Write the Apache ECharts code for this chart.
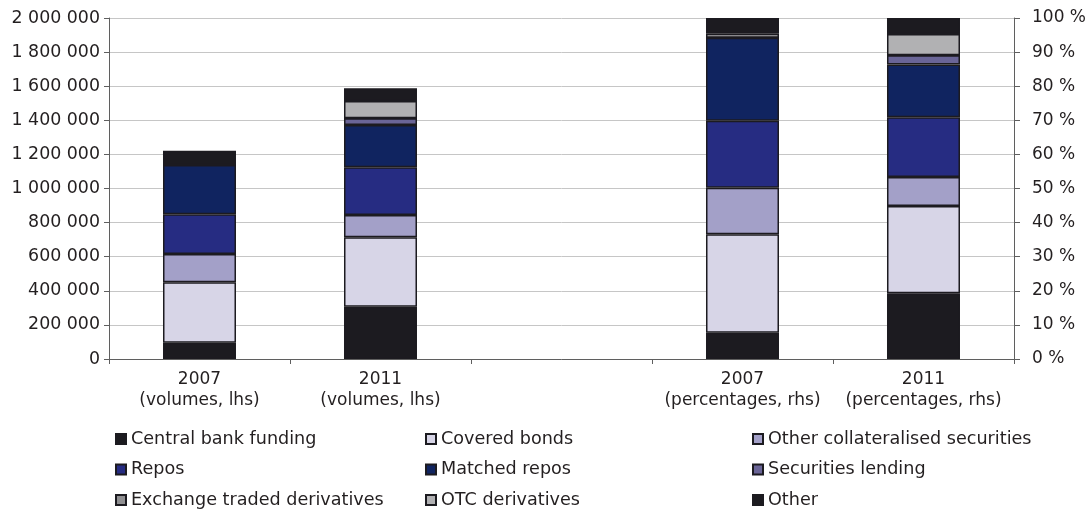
<!DOCTYPE html>
<html>
<head>
<meta charset="utf-8">
<title>Funding sources, volumes and percentages</title>
<script src="https://cdn.jsdelivr.net/npm/echarts@6/dist/echarts.min.js"></script>
<style>
  html, body { margin: 0; padding: 0; background: #fff; }
  #chart { width: 1089px; height: 511px; }
</style>
</head>
<body>
<div id="chart"></div>
<script>
// x categories (middle slot is an empty spacer)
const categories = ['2007\n(volumes, lhs)', '2011\n(volumes, lhs)', '', '2007\n(percentages, rhs)', '2011\n(percentages, rhs)']

// series names, bottom of the stack first
const seriesNames = [
  'Central bank funding',
  'Covered bonds',
  'Other collateralised securities',
  'Repos',
  'Matched repos',
  'Securities lending',
  'Exchange traded derivatives',
  'OTC derivatives',
  'Other'
]
const seriesColors = ['#1c1b20', '#d7d5e7', '#a3a0c8', '#262c82', '#102460', '#6a6597', '#8f8f91', '#b1b1b3', '#1c1b20']

// volumes (lhs), same order as seriesNames
const vol2007 = [95000, 355000, 166000, 233000, 289000, 0, 0, 0, 84000]
const vol2011 = [307000, 407000, 131000, 279000, 248000, 40000, 0, 101000, 75000]

// percentages (rhs), same order as seriesNames
const pct2007 = [7.7, 28.9, 13.6, 19.7, 24.3, 0, 0, 1.2, 4.6]
const pct2011 = [19.3, 25.6, 8.5, 17.5, 15.5, 2.7, 0, 6.2, 4.7]

// tick labels
const lhsTicks = { min: 0, max: 2000000, interval: 200000 }
const rhsTicks = { min: 0, max: 100, interval: 10 }

// legend columns (as in the picture, filled by column)
const legendCols = [
  ['Central bank funding', 'Repos', 'Exchange traded derivatives'],
  ['Covered bonds', 'Matched repos', 'OTC derivatives'],
  ['Other collateralised securities', 'Securities lending', 'Other']
]
const legendLeft = [115, 425, 752]

const FONT = 'DejaVu Sans'
const TXT = '#231f20'

function spaced(v) {
  return String(v).replace(/\B(?=(\d{3})+(?!\d))/g, ' ')
}

function buildSeries() {
  let arr = []
  seriesNames.forEach((name, i) => {
    const style = { color: seriesColors[i], borderColor: '#1c1b20', borderWidth: 1.5 }
    arr.push({
      name: name,
      type: 'bar',
      stack: 'vol',
      yAxisIndex: 0,
      barWidth: 73,
      barGap: '-100%',
      itemStyle: style,
      emphasis: { disabled: true },
      data: [vol2007[i], vol2011[i], '-', '-', '-']
    })
  })
  seriesNames.forEach((name, i) => {
    const style = { color: seriesColors[i], borderColor: '#1c1b20', borderWidth: 1.5 }
    arr.push({
      name: name,
      type: 'bar',
      stack: 'pct',
      yAxisIndex: 1,
      barWidth: 73,
      barGap: '-100%',
      itemStyle: style,
      emphasis: { disabled: true },
      data: ['-', '-', '-', pct2007[i], pct2011[i]]
    })
  })
  return arr
}

const chart = echarts.init(document.getElementById('chart'), null, { renderer: 'canvas' })
chart.setOption({
  backgroundColor: '#fff',
  animation: false,
  textStyle: { fontFamily: FONT, color: TXT },
  grid: { left: 109, right: 75, top: 18, bottom: 152, containLabel: false },
  legend: legendCols.map((col, k) => ({
    data: col,
    orient: 'vertical',
    left: legendLeft[k],
    top: 429,
    padding: 0,
    itemWidth: 10,
    itemHeight: 10,
    itemGap: 10.5,
    icon: 'rect',
    selectedMode: false,
    textStyle: { fontFamily: FONT, fontSize: 17.6, color: TXT, lineHeight: 20 }
  })),
  xAxis: {
    type: 'category',
    data: categories,
    axisLine: { lineStyle: { color: '#5f5f5f', width: 1 } },
    axisTick: { show: true, length: 5, alignWithLabel: false, lineStyle: { color: '#5f5f5f' } },
    axisLabel: { fontFamily: FONT, fontSize: 17, color: TXT, lineHeight: 21, margin: 10, interval: 0 }
  },
  yAxis: [
    {
      type: 'value',
      position: 'left',
      min: lhsTicks.min,
      max: lhsTicks.max,
      interval: lhsTicks.interval,
      axisLine: { show: true, lineStyle: { color: '#5f5f5f', width: 1 } },
      axisTick: { show: true, length: 5, lineStyle: { color: '#5f5f5f' } },
      splitLine: { show: true, lineStyle: { color: '#c6c6c6', width: 1 } },
      axisLabel: { fontFamily: FONT, fontSize: 17.4, color: TXT, margin: 9, formatter: (v) => spaced(v) }
    },
    {
      type: 'value',
      position: 'right',
      min: rhsTicks.min,
      max: rhsTicks.max,
      interval: rhsTicks.interval,
      axisLine: { show: true, lineStyle: { color: '#5f5f5f', width: 1 } },
      axisTick: { show: true, length: 6, lineStyle: { color: '#5f5f5f' } },
      splitLine: { show: false },
      axisLabel: { fontFamily: FONT, fontSize: 17, color: TXT, margin: 18, formatter: '{value} %' }
    }
  ],
  series: buildSeries()
})
</script>
</body>
</html>
